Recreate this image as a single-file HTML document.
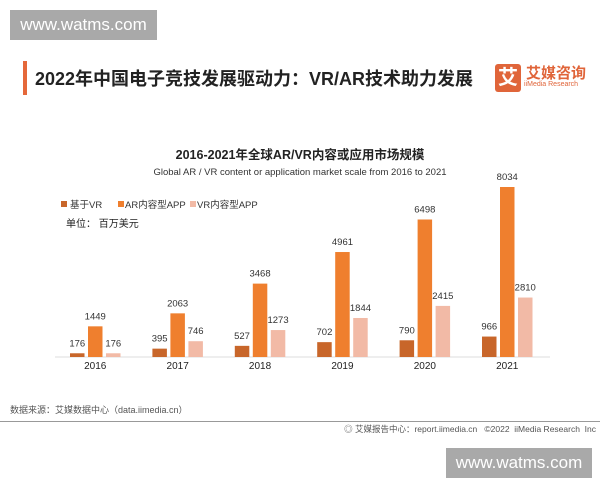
<!DOCTYPE html>
<html><head><meta charset="utf-8">
<style>
body{margin:0;width:600px;height:480px;background:#fff;position:relative;overflow:hidden;font-family:"Liberation Sans","Noto Sans CJK SC",sans-serif;}
.wm{position:absolute;background:#a9a9a9;color:#fff;font-size:17px;display:flex;align-items:center;justify-content:center;}
</style></head><body>
<div class="wm" style="left:10px;top:10px;width:147px;height:30px;">www.watms.com</div>
<div style="position:absolute;left:23px;top:61px;width:4px;height:34px;background:#e5683a;"></div>
<div style="position:absolute;left:35px;top:65px;font-size:18px;font-weight:bold;color:#222;white-space:nowrap;">2022年中国电子竞技发展驱动力：VR/AR技术助力发展</div>
<div style="position:absolute;left:495px;top:64px;width:26px;height:28px;background:#e0653a;border-radius:3px;color:#fff;font-weight:bold;font-size:20px;text-align:center;line-height:28px;">艾</div>
<div style="position:absolute;left:526px;top:62px;color:#e0653a;font-size:15px;font-weight:bold;white-space:nowrap;">艾媒咨询</div>
<div style="position:absolute;left:524px;top:81px;color:#e0653a;font-size:7px;white-space:nowrap;">iiMedia Research</div>

<svg id="chart" width="600" height="480" style="position:absolute;left:0;top:0;" font-family="Liberation Sans, Noto Sans CJK SC, sans-serif">
<text x="300" y="159" text-anchor="middle" font-size="12.5" font-weight="bold" fill="#222">2016-2021年全球AR/VR内容或应用市场规模</text>
<text x="300" y="175" text-anchor="middle" font-size="9.5" fill="#333">Global AR / VR content or application market scale from 2016 to 2021</text>
<g font-size="9.5" fill="#333">
<rect x="61" y="201" width="6" height="6" fill="#c8662a"/><text x="70" y="208">基于VR</text>
<rect x="118" y="201" width="6" height="6" fill="#ef7f2e"/><text x="125" y="208">AR内容型APP</text>
<rect x="190" y="201" width="6" height="6" fill="#f2baa6"/><text x="197" y="208">VR内容型APP</text>
</g>
<text x="66" y="227" font-size="10" fill="#222">单位：  百万美元</text>
<line x1="55" y1="357" x2="550" y2="357" stroke="#ddd" stroke-width="1"/>
<g id="bars"></g>
</svg>

<div style="position:absolute;left:10px;top:403px;font-size:9px;color:#555;white-space:nowrap;">数据来源：艾媒数据中心（data.iimedia.cn）</div>
<div style="position:absolute;left:0;top:421px;width:600px;height:1px;background:#999;"></div>
<div style="position:absolute;right:4px;top:423px;font-size:8.5px;color:#555;white-space:nowrap;">◎ 艾媒报告中心：report.iimedia.cn &nbsp; ©2022 &nbsp;iiMedia Research &nbsp;Inc</div>
<div class="wm" style="left:446px;top:448px;width:146px;height:30px;">www.watms.com</div>

<script>
const years = ["2016","2017","2018","2019","2020","2021"];
const vrBased = [176,395,527,702,790,966];
const arApp = [1449,2063,3468,4961,6498,8034];
const vrApp = [176,746,1273,1844,2415,2810];
const seriesNames = ["vr-based","ar-app","vr-app"];
const colors = ["#c8662a","#ef7f2e","#f2baa6"];
const series = [vrBased, arApp, vrApp];
const baseY = 357, scale = 170/8034;
const y = v => baseY - v*scale;
const groupX = i => 70 + i*82.4;
const barW = 14.5, barStep = 18;
const g = document.getElementById('bars');
const NS = "http://www.w3.org/2000/svg";
years.forEach((yr,i)=>{
  series.forEach((s,k)=>{
    const x = groupX(i)+k*barStep;
    const r = document.createElementNS(NS,'rect');
    r.setAttribute('x',x); r.setAttribute('y',y(s[i]));
    r.setAttribute('width',barW); r.setAttribute('height',baseY-y(s[i]));
    r.setAttribute('fill',colors[k]);
    
    
    g.appendChild(r);
    const t = document.createElementNS(NS,'text');
    t.setAttribute('x',x+barW/2); t.setAttribute('y',y(s[i])-7);
    t.setAttribute('text-anchor','middle'); t.setAttribute('font-size','9.5'); t.setAttribute('fill','#333');
    t.textContent = s[i];
    
    
    g.appendChild(t);
  });
  const yl = document.createElementNS(NS,'text');
  yl.setAttribute('x',groupX(i)+barStep+barW/2); yl.setAttribute('y',baseY+12);
  yl.setAttribute('text-anchor','middle'); yl.setAttribute('font-size','10'); yl.setAttribute('fill','#222');
  yl.textContent = yr;
  
  
  g.appendChild(yl);
});
</script>
</body></html>
